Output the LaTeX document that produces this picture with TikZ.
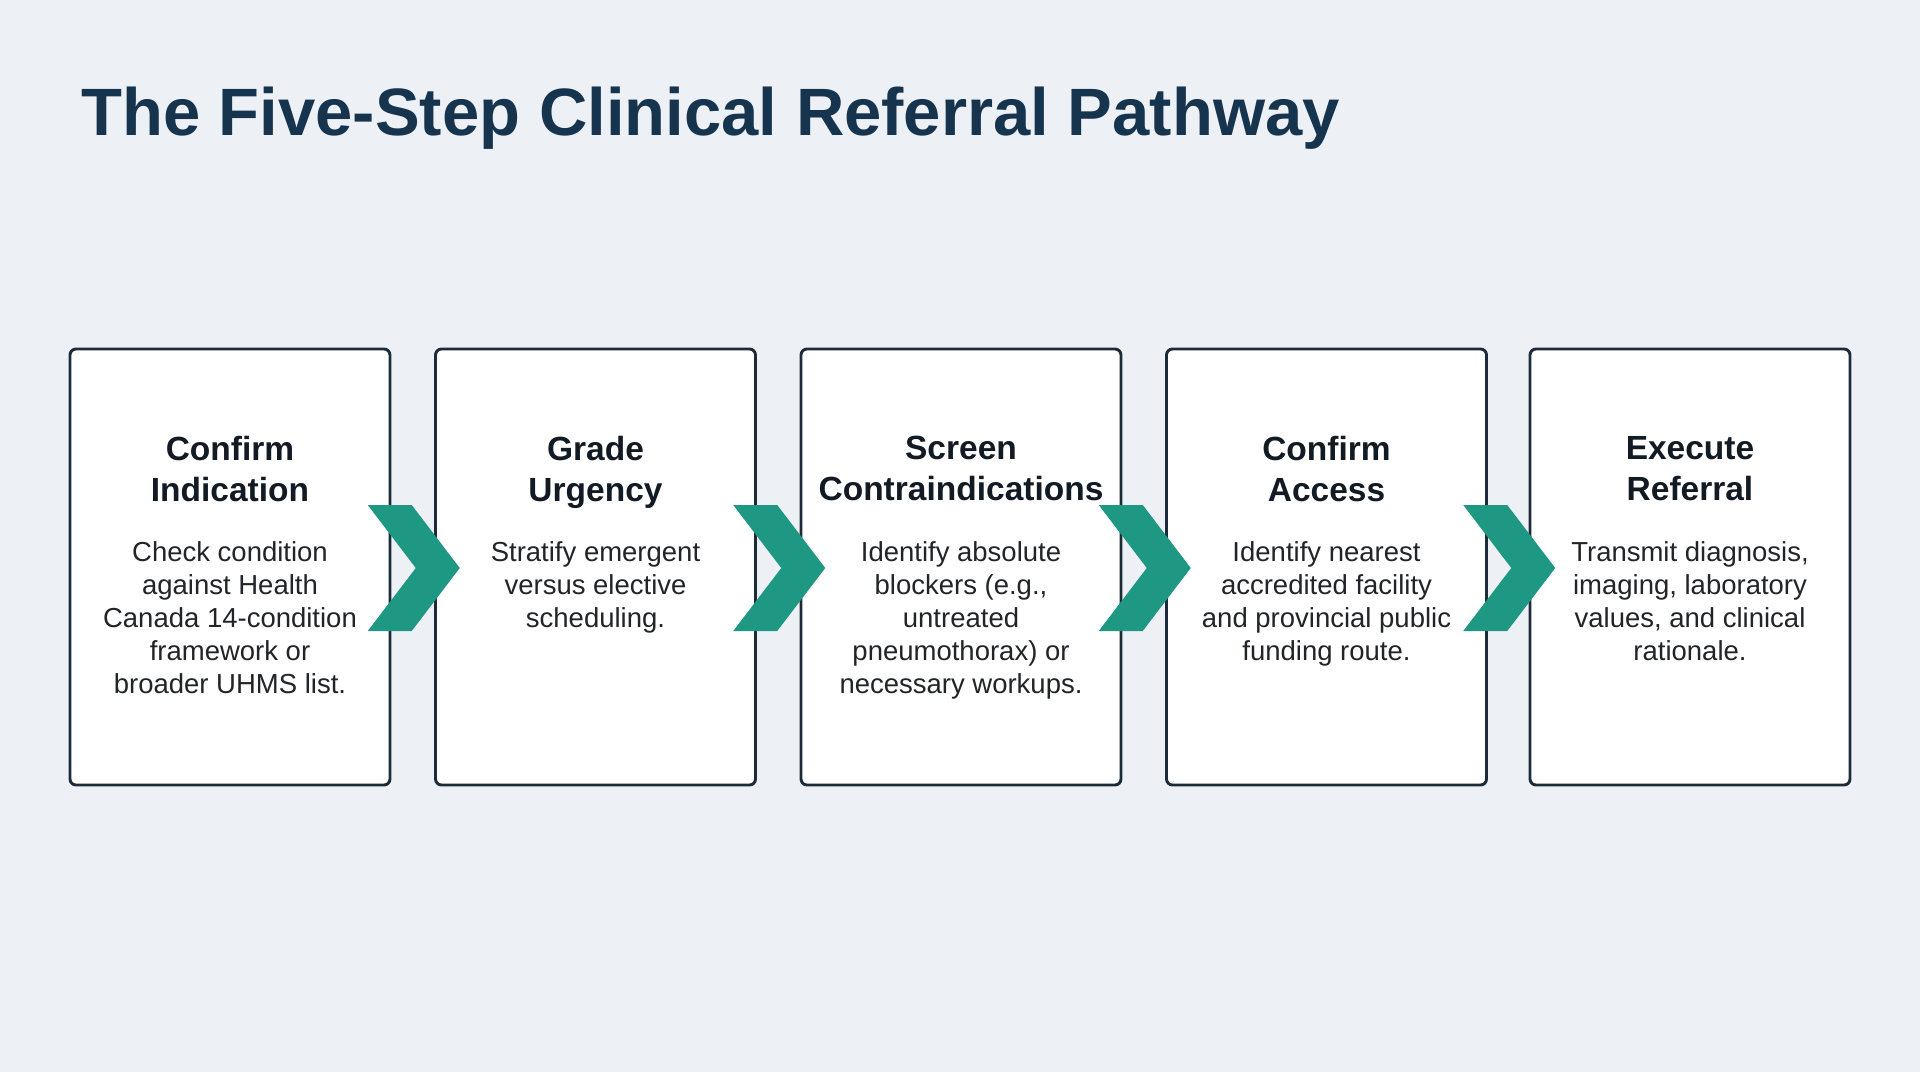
\documentclass[tikz,border=0pt]{standalone}
\usepackage{fontspec}
\setmainfont{Liberation Sans}
\usetikzlibrary{calc}
\definecolor{bgc}{HTML}{EDF1F5}
\definecolor{titlec}{HTML}{17344F}
\definecolor{boxline}{HTML}{1C2B3A}
\definecolor{headc}{HTML}{121A24}
\definecolor{bodyc}{HTML}{222428}
\definecolor{teal}{HTML}{1F9883}
\tikzset{
  stepbox/.style={draw=boxline, line width=2.9pt, fill=white, rounded corners=6pt,
    minimum width=320pt, minimum height=436pt, inner sep=0pt},
  headtxt/.style={anchor=north, align=center, inner sep=0pt, text=headc,
    font=\fontsize{33.5}{41}\selectfont\bfseries,
    execute at begin node={\rule{0pt}{27pt}}},
  bodytxt/.style={anchor=north, align=center, inner sep=0pt, text=bodyc,
    font=\fontsize{27.5}{33}\selectfont,
    execute at begin node={\rule{0pt}{22pt}}},
  chev/.style={fill=teal, draw=none}
}
\newcommand{\chevat}[1]{%
  \fill[chev] ($(#1)+(-46,-63)$) -- ($(#1)+(-2,-63)$) -- ($(#1)+(46,0)$) --
    ($(#1)+(-2,63)$) -- ($(#1)+(-46,63)$) -- ($(#1)+(2,0)$) -- cycle;}
\begin{document}
\begin{tikzpicture}[x=1pt,y=-1pt]
\fill[bgc] (0,0) rectangle (1920,1072);
\useasboundingbox (0,0) rectangle (1920,1072);

\node[anchor=base west, inner sep=0pt, text=titlec, font=\fontsize{67}{70}\selectfont\bfseries]
  (title) at (81,135) {The Five-Step Clinical Referral Pathway};

\node[stepbox] (b1) at (230,567) {};
\node[stepbox] (b2) at (595.5,567) {};
\node[stepbox] (b3) at (961,567) {};
\node[stepbox] (b4) at (1326.5,567) {};
\node[stepbox] (b5) at (1690,567) {};

\node[headtxt] (h1) at ([yshift=-88.5pt]b1.north) {Confirm\\Indication};
\node[headtxt] (h2) at ([yshift=-88.5pt]b2.north) {Grade\\Urgency};
\node[headtxt] (h3) at ([yshift=-88.5pt]b3.north) {Screen\\Contraindications};
\node[headtxt] (h4) at ([yshift=-88.5pt]b4.north) {Confirm\\Access};
\node[headtxt] (h5) at ([yshift=-88.5pt]b5.north) {Execute\\Referral};

\node[bodytxt] (t1) at ([yshift=-193.5pt]b1.north) {Check condition\\against Health\\Canada 14-condition\\framework or\\broader UHMS list.};
\node[bodytxt] (t2) at ([yshift=-193.5pt]b2.north) {Stratify emergent\\versus elective\\scheduling.};
\node[bodytxt] (t3) at ([yshift=-193.5pt]b3.north) {Identify absolute\\blockers (e.g.,\\untreated\\pneumothorax) or\\necessary workups.};
\node[bodytxt] (t4) at ([yshift=-193.5pt]b4.north) {Identify nearest\\accredited facility\\and provincial public\\funding route.};
\node[bodytxt] (t5) at ([yshift=-193.5pt]b5.north) {Transmit diagnosis,\\imaging, laboratory\\values, and clinical\\rationale.};

\coordinate (c1) at ($(b1.east)!0.5!(b2.west)+(1,1)$);
\coordinate (c2) at ($(b2.east)!0.5!(b3.west)+(1,1)$);
\coordinate (c3) at ($(b3.east)!0.5!(b4.west)+(1,1)$);
\coordinate (c4) at ($(b4.east)!0.5!(b5.west)+(1,1)$);
\chevat{c1}
\chevat{c2}
\chevat{c3}
\chevat{c4}
\end{tikzpicture}
\end{document}
